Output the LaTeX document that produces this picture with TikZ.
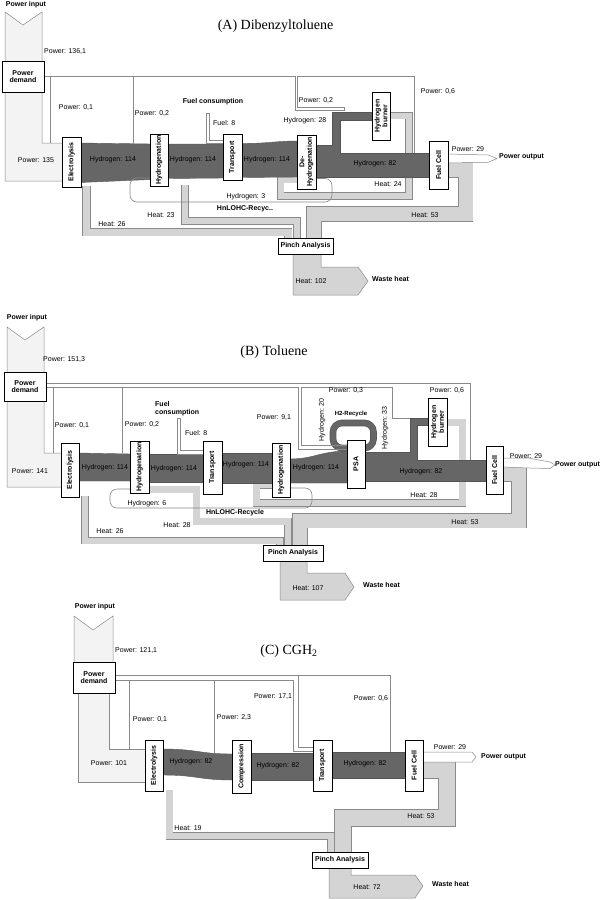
\documentclass[tikz,border=0pt]{standalone}
\usepackage{fontspec}
\setmainfont{Liberation Serif}
\setsansfont{Liberation Sans}
\definecolor{hdark}{HTML}{666666}
\definecolor{hedge}{HTML}{555555}
\definecolor{heatc}{HTML}{D4D4D4}
\definecolor{powc}{HTML}{F3F3F3}
\definecolor{bord}{HTML}{8A8A8A}
\newcommand\heatband[2]{%
 \pgfmathsetmacro\hbw{#1+1.1}%
 \draw[line width=\hbw pt, draw=bord] #2;%
 \draw[line width=#1pt, draw=heatc] #2;}
\tikzset{
 lab/.style={font=\sffamily\fontsize{7}{8}\selectfont, inner sep=0pt},
 blab/.style={font=\sffamily\bfseries\fontsize{7}{8}\selectfont, inner sep=0pt},
 ttl/.style={font=\fontsize{14}{16}\selectfont, inner sep=0pt},
 box/.style={draw=black, fill=white, line width=0.6pt, inner sep=0.5pt, font=\sffamily\bfseries\fontsize{7}{7.6}\selectfont, align=center},
 bbox/.style={box},
 vbox/.style={box, rotate=90},
 hband/.style={fill=hdark, draw=hedge, line width=0.4pt},
 pband/.style={fill=powc, draw=bord, line width=0.5pt},
 wband/.style={fill=white, draw=bord, line width=0.5pt},
 hflow/.style={fill=heatc, draw=bord, line width=0.5pt},
 pline/.style={draw=bord, line width=0.6pt},
}
\begin{document}
\begin{tikzpicture}[x=1pt,y=-1pt]
\useasboundingbox (0,0) rectangle (600,900);
\fill[white] (0,0) rectangle (600,900);

%================ PANEL A ================
\draw[pband] (5,12) -- (23,25) -- (42,12) -- (42,143) -- (63,143) -- (63,181) -- (5,181) -- cycle;
\heatband{7}{(86.5,186) -- (86.5,232) -- (288,232) -- (288,239)}
\heatband{6}{(185,185) -- (185,221) -- (297,221) -- (297,239)}
\heatband{14}{(447,170) -- (465.5,170) -- (465.5,214) -- (314,214) -- (314,239)}
\heatband{6}{(389,115.5) -- (409,115.5) -- (409,196) -- (280.5,196) -- (280.5,179.5) -- (298,179.5)}
\draw[hflow] (293,253) -- (293,295) -- (358,295) -- (368,281) -- (358,267) -- (321,267) -- (321,253) -- cycle;
\draw[hband] (80,143) -- (151,144) -- (151,179.5) -- (80,182.5) -- cycle;
\draw[hband] (167,144) -- (224,144) -- (224,178) -- (167,178.5) -- cycle;
\draw[hband] (241,143.5) .. controls (270,143.5) and (275,141) .. (298,141) -- (298,177) -- (241,177.5) -- cycle;
\draw[hband] (315,145) -- (332,145) -- (332,112) -- (373,112) -- (373,120) -- (340,120) -- (340,153) -- (430,153) -- (430,177) -- (315,177) -- cycle;
\draw[pline, rounded corners=7] (315,178.5) -- (332,178.5) -- (332,202) -- (130,202) -- (130,178) -- (151,178);
\draw[pline] (44,76) -- (414,76) -- (414,153);
\draw[pline] (50,76) -- (50,143);
\draw[pline] (133,76) -- (133,144);
\draw[wband] (295,76) -- (295,110) -- (344,110) -- (344,107.5) -- (297.5,107.5) -- (297.5,76);
\draw[wband] (206.5,113) -- (209.5,113) -- (209.5,140.5) -- (224,140.5) -- (224,143.5) -- (206.5,143.5) -- cycle;
\draw[wband] (447,154) -- (488,155) -- (497,158.5) -- (488,162.3) -- (447,163) -- cycle;

\node[bbox, minimum width=42, minimum height=31] (pdA) at (23,76.5) {Power\\demand};
\node[vbox, minimum width=50, minimum height=19] (elA) at (71.5,162) {Electrolysis};
\node[vbox, minimum width=52, minimum height=18] (hyA) at (159,160) {Hydrogenation};
\node[vbox, minimum width=46, minimum height=19] (trA) at (232.5,157) {Transport};
\node[vbox, minimum width=54, minimum height=19] (dhA) at (306.5,162) {De-\\Hydrogenation};
\node[vbox, minimum width=48, minimum height=18] (hbA) at (381,116) {Hydrogen\\burner};
\node[vbox, minimum width=48, minimum height=19] (fcA) at (438.5,165) {Fuel Cell};
\node[bbox, minimum width=55, minimum height=16] (piA) at (305.5,246) {Pinch Analysis};

\node[ttl] (tA) at (275.5,26) {(A) Dibenzyltoluene};
\node[blab] (a1) at (26,5) {Power input};
\node[lab, anchor=west] (a2) at (44,52) {Power: 136,1};
\node[lab] (a3) at (36,160) {Power: 135};
\node[lab] (a4) at (76,108) {Power: 0,1};
\node[lab] (a5) at (152,114) {Power: 0,2};
\node[blab] (a6) at (213,102) {Fuel consumption};
\node[lab, anchor=west] (a7) at (213,123) {Fuel: 8};
\node[lab] (a8) at (113,160) {Hydrogen: 114};
\node[lab] (a9) at (193,160) {Hydrogen: 114};
\node[lab] (a10) at (267,160) {Hydrogen: 114};
\node[lab] (a11) at (316,101) {Power: 0,2};
\node[lab] (a12) at (305,121) {Hydrogen: 28};
\node[lab] (a13) at (438,92) {Power: 0,6};
\node[lab] (a14) at (375,164) {Hydrogen: 82};
\node[lab] (a15) at (468,149) {Power: 29};
\node[blab, anchor=west] (a16) at (499,157) {Power output};
\node[lab] (a17) at (388,184) {Heat: 24};
\node[lab] (a18) at (246,197) {Hydrogen: 3};
\node[blab] (a19) at (245,209) {HnLOHC-Recyc..};
\node[lab] (a20) at (161,215) {Heat: 23};
\node[lab] (a21) at (112,224) {Heat: 26};
\node[lab] (a22) at (425,215) {Heat: 53};
\node[lab] (a23) at (311,281) {Heat: 102};
\node[blab, anchor=west] (a24) at (372,279) {Waste heat};

%================ PANEL B ================
\draw[pband] (7,327) -- (25,340) -- (44,327) -- (44,453) -- (62,453) -- (62,487) -- (7,487) -- cycle;
\heatband{6}{(85,496) -- (85,540.5) -- (280,540.5) -- (280,546)}
\heatband{6.5}{(148,489.5) -- (196.5,489.5) -- (196.5,521.5) -- (288,521.5) -- (288,546)}
\heatband{14}{(502,474) -- (519,474) -- (519,520.5) -- (300,520.5) -- (300,546)}
\heatband{6.5}{(446,422.5) -- (462.5,422.5) -- (462.5,503) -- (256.5,503) -- (256.5,485) -- (273,485)}
\draw[hflow] (280,560) -- (280,600) -- (345,600) -- (354,587) -- (345,573) -- (307,573) -- (307,560) -- cycle;
\draw[hband] (78,453) -- (131,454) -- (131,481) -- (78,481) -- cycle;
\draw[hband] (148,454) -- (204,454) -- (204,482) -- (148,482) -- cycle;
\draw[hband] (221,453) -- (273,453) -- (273,483) -- (221,483) -- cycle;
\draw[hband] (289,459) .. controls (315,459) and (320,451) .. (348,451) -- (348,483) -- (289,483) -- cycle;
\draw[hband] (364,452) -- (410,452) -- (410,418) -- (429,418) -- (429,425) -- (417,425) -- (417,460) -- (487,460) -- (487,481) -- (364,481) -- cycle;
\draw[line width=6.6pt, draw=hedge, rounded corners=9] (333,423) rectangle (373.5,448);
\draw[line width=5.2pt, draw=hdark, rounded corners=9] (333,423) rectangle (373.5,448);
\draw[pline, rounded corners=7] (289,488) -- (312,488) -- (312,508) -- (110,508) -- (110,489) -- (131,489);
\draw[pline] (46,383) -- (470,383) -- (470,460);
\draw[pline] (46,387) -- (298,387) -- (298,449) -- (348,449);
\draw[pline] (301.5,387) -- (392,387) -- (392,418) -- (410,418);
\draw[pline] (301.5,387) -- (301.5,445.5) -- (348,445.5);
\draw[pline] (53,387) -- (53,453);
\draw[pline] (122,387) -- (122,453);
\draw[wband] (177,418) -- (180,418) -- (180,450.5) -- (204,450.5) -- (204,454) -- (177,454) -- cycle;
\draw[wband] (502,458) -- (528,458) -- (550,462) -- (555,465) -- (550,468.5) -- (530,468) -- (502,467) -- cycle;

\node[bbox, minimum width=42, minimum height=29] (pdB) at (25,386.5) {Power\\demand};
\node[vbox, minimum width=54, minimum height=18] (elB) at (70,470) {Electrolysis};
\node[vbox, minimum width=52, minimum height=19] (hyB) at (139.5,467) {Hydrogenation};
\node[vbox, minimum width=53, minimum height=19] (trB) at (212.5,467.5) {Transport};
\node[vbox, minimum width=54, minimum height=18] (dhB) at (281,470) {Hydrogenation};
\node[vbox, minimum width=48, minimum height=18] (psB) at (356,464) {PSA};
\node[vbox, minimum width=48, minimum height=19] (hbB) at (437.5,422) {Hydrogen\\burner};
\node[vbox, minimum width=48, minimum height=17] (fcB) at (494.5,470) {Fuel Cell};
\node[bbox, minimum width=60, minimum height=16] (piB) at (293,553) {Pinch Analysis};

\node[ttl] (tB) at (274,352) {(B) Toluene};
\node[blab] (b1) at (27,318) {Power input};
\node[lab, anchor=west] (b2) at (43,359) {Power: 151,3};
\node[lab] (b3) at (72,425) {Power: 0,1};
\node[lab] (b4) at (142,424) {Power: 0,2};
\node[blab, anchor=west, align=left] (b5) at (155,409) {Fuel\\consumption};
\node[lab, anchor=west] (b6) at (185,433) {Fuel: 8};
\node[lab] (b7) at (274,417) {Power: 9,1};
\node[lab] (b8) at (30,471) {Power: 141};
\node[lab] (b9) at (105,468) {Hydrogen: 114};
\node[lab] (b10) at (174,469) {Hydrogen: 114};
\node[lab] (b11) at (246,465) {Hydrogen: 114};
\node[lab] (b12) at (316,468) {Hydrogen: 114};
\node[lab] (b13) at (147,504) {Hydrogen: 6};
\node[blab] (b14) at (235,513) {HnLOHC-Recycle};
\node[lab] (b15) at (177,525) {Heat: 28};
\node[lab] (b16) at (110,531) {Heat: 26};
\node[lab, rotate=90] (b17) at (322,420) {Hydrogen: 20};
\node[blab, font=\sffamily\bfseries\fontsize{6}{7}\selectfont] (b18) at (351,414) {H2-Recycle};
\node[lab, rotate=90] (b19) at (385,428) {Hydrogen: 33};
\node[lab] (b20) at (346,390) {Power: 0,3};
\node[lab] (b21) at (447,390) {Power: 0,6};
\node[lab] (b22) at (421,472) {Hydrogen: 82};
\node[lab] (b23) at (424,495) {Heat: 28};
\node[lab] (b24) at (526,456) {Power: 29};
\node[blab, anchor=west] (b25) at (555,465) {Power output};
\node[lab] (b26) at (465,522) {Heat: 53};
\node[lab] (b27) at (308,588) {Heat: 107};
\node[blab, anchor=west] (b28) at (363,585) {Waste heat};

%================ PANEL C ================
\draw[pband] (74,616) -- (93,630) -- (113,616) -- (113,663) -- (74,663) -- cycle;
\draw[pband] (78,692) -- (78,782) -- (146,782) -- (146,749) -- (109,749) -- (109,692) -- cycle;
\heatband{6.5}{(169.5,790) -- (169.5,836) -- (331,836) -- (331,853)}
\heatband{16}{(422,770) -- (447,770) -- (447,818) -- (343,818) -- (343,853)}
\draw[hflow] (329,867) -- (329,898) -- (415,898) -- (423,886) -- (415,875) -- (351,875) -- (351,867) -- cycle;
\draw[hband] (162,749) .. controls (198,749) and (198,754) .. (233,754) -- (233,780) .. controls (198,780) and (198,775) .. (162,775) -- cycle;
\draw[hband] (250,753) -- (314,753) -- (314,780) -- (250,780) -- cycle;
\draw[hband] (331,752) -- (406,752) -- (406,778) -- (331,778) -- cycle;
\draw[pline] (115,675) -- (390,675) -- (390,752);
\draw[pline] (115,680) -- (293,680) -- (293,751) -- (314,751);
\draw[pline] (298,675) -- (298,747) -- (314,747);
\draw[pline] (129,680) -- (129,749);
\draw[pline] (214,680) -- (214,753);
\draw[wband] (422,752) -- (472,752) -- (476,757) -- (472,762) -- (422,762) -- cycle;

\node[bbox, minimum width=42, minimum height=31] (pdC) at (94,677.5) {Power\\demand};
\node[vbox, minimum width=51, minimum height=18] (elC) at (154,765.5) {Electrolysis};
\node[vbox, minimum width=53, minimum height=19] (coC) at (241.5,766.5) {Compression};
\node[vbox, minimum width=51, minimum height=19] (trC) at (322.5,765.5) {Transport};
\node[vbox, minimum width=51, minimum height=18] (fcC) at (414,765.5) {Fuel Cell};
\node[bbox, minimum width=56, minimum height=16] (piC) at (340,860) {Pinch Analysis};

\node[ttl] (tC) at (289,651) {(C) CGH\textsubscript{2}};
\node[blab] (c1) at (95,607) {Power input};
\node[lab, anchor=west] (c2) at (115,650) {Power: 121,1};
\node[lab] (c3) at (150,719) {Power: 0,1};
\node[lab] (c4) at (234,717) {Power: 2,3};
\node[lab] (c5) at (273,697) {Power: 17,1};
\node[lab] (c6) at (371,698) {Power: 0,6};
\node[lab] (c7) at (109,763) {Power: 101};
\node[lab] (c8) at (191,762) {Hydrogen: 82};
\node[lab] (c9) at (278,766) {Hydrogen: 82};
\node[lab] (c10) at (365,764) {Hydrogen: 82};
\node[lab] (c11) at (450,747) {Power: 29};
\node[blab, anchor=west] (c12) at (481,757) {Power output};
\node[lab] (c13) at (188,828) {Heat: 19};
\node[lab] (c14) at (421,816) {Heat: 53};
\node[lab] (c15) at (367,887) {Heat: 72};
\node[blab, anchor=west] (c16) at (432,884) {Waste heat};
\end{tikzpicture}
\end{document}
